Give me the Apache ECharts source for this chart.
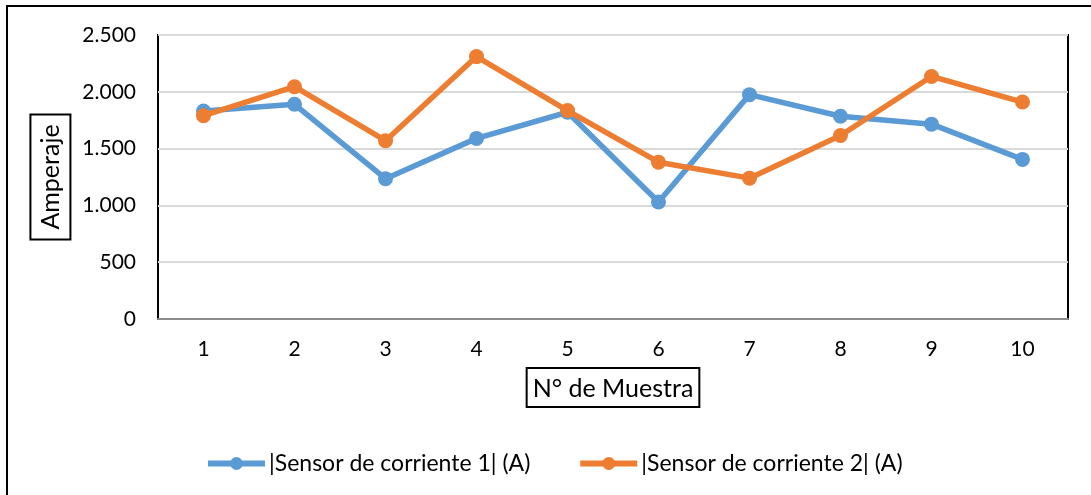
<!DOCTYPE html>
<html>
<head>
<meta charset="utf-8">
<script src="https://cdn.jsdelivr.net/npm/echarts@6/dist/echarts.min.js"></script>
<style>
html,body{margin:0;padding:0;background:#fff;}
#chart1{width:1091px;height:495px;}
</style>
</head>
<body>
<div id="chart1"></div>
<script>
var muestras=['1','2','3','4','5','6','7','8','9','10'];
var sensor1=[1830,1890,1235,1590,1820,1030,1975,1785,1715,1405];
var sensor2=[1790,2045,1570,2310,1835,1380,1240,1615,2135,1910];
var nombres=['|Sensor de corriente 1| (A)','|Sensor de corriente 2| (A)'];
var colores=['#5B9BD5','#ED7D31'];

function chart1(){
	var myChart = echarts.init(document.getElementById('chart1'));
	var fuente='Lato';
	function serie(i,datos){
		return {
			name: nombres[i],
			type: 'line',
			data: datos,
			symbol: 'circle',
			symbolSize: 15,
			lineStyle: {width: 5.5, color: colores[i]},
			itemStyle: {color: colores[i]},
			z: 3+i
		};
	}
	var option = {
		animation: false,
		color: colores,
		textStyle: {fontFamily: fuente},
		graphic: [{
			type: 'rect',
			shape: {x: 7, y: 6, width: 1200, height: 600},
			style: {fill: 'none', stroke: '#000', lineWidth: 2},
			silent: true
		}],
		grid: {
			left: 158,
			right: 23,
			top: 35,
			bottom: 176,
			show: true,
			borderColor: '#000',
			borderWidth: 2,
			containLabel: false
		},
		legend: {
			left: 200,
			top: 447,
			itemWidth: 57,
			itemHeight: 16,
			itemGap: 47,
			lineStyle: {width: 6},
			textStyle: {fontSize: 23, color: '#000', fontFamily: fuente, padding: [0, 0, 0, -1]},
			data: nombres
		},
		xAxis: {
			type: 'category',
			data: muestras,
			boundaryGap: true,
			axisLine: {lineStyle: {color: '#8c8c8c', width: 2}},
			axisTick: {show: false},
			axisLabel: {fontSize: 21, color: '#000', margin: 20},
			name: 'N° de Muestra',
			nameLocation: 'middle',
			nameGap: 49,
			nameTextStyle: {
				fontSize: 25, color: '#000',
				borderColor: '#000', borderWidth: 2,
				padding: [8, 6, 6, 6]
			}
		},
		yAxis: {
			type: 'value',
			min: 0,
			max: 2500,
			interval: 500,
			axisLine: {show: false},
			axisTick: {show: false},
			splitLine: {lineStyle: {color: '#d9d9d9', width: 2}},
			axisLabel: {
				fontSize: 21, color: '#000', margin: 22,
				formatter: function(v){ return v.toString().replace(/\B(?=(\d{3})+(?!\d))/g, '.'); }
			},
			name: 'Amperaje',
			nameLocation: 'middle',
			nameRotate: 90,
			nameGap: 57,
			nameTextStyle: {
				fontSize: 25, color: '#000',
				borderColor: '#000', borderWidth: 2,
				padding: [8, 10, 7, 10]
			}
		},
		series: [serie(0, sensor1), serie(1, sensor2)]
	};
	myChart.setOption(option);
	window.addEventListener("resize",function() {
		myChart.resize();
	})
}

chart1();
</script>
</body>
</html>
